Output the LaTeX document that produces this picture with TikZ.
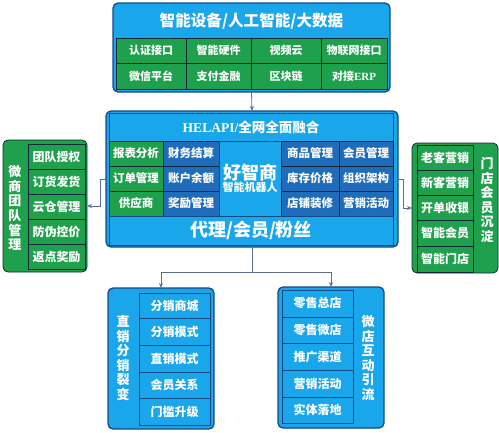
\documentclass[tikz,border=0pt]{standalone}
\usepackage{fontspec}
\setmainfont{Noto Sans CJK SC}
\newfontfamily\latinserif{Liberation Serif}
\usetikzlibrary{arrows.meta}
\definecolor{lblue}{RGB}{26,166,234}
\definecolor{dblue}{RGB}{31,108,186}
\definecolor{mgreen}{RGB}{31,160,76}
\definecolor{navy}{RGB}{22,72,132}
\definecolor{cellline}{RGB}{18,38,58}
\definecolor{connc}{RGB}{92,110,148}
\newcommand\mkcell[7]{%
  \pgfmathsetmacro\cx{(#2+#4)/2}%
  \pgfmathsetmacro\cy{(#3+#5)/2}%
  \node[#6, minimum width={(#4-#2)*1pt}, minimum height={(#5-#3)*1pt}] (#1) at (\cx,\cy) {#7};}
\begin{document}
\begin{tikzpicture}[x=1pt,y=-1pt,
  outerbox/.style={draw=navy, line width=1.3pt, rounded corners=5pt, inner sep=0pt, outer sep=0pt},
  gcell/.style={draw=cellline, line width=0.6pt, fill=mgreen, text=white, inner sep=0pt, outer sep=0pt, font=\bfseries\fontsize{11}{13}\selectfont},
  dcell/.style={gcell, fill=dblue},
  lcell/.style={gcell, fill=lblue, draw=navy},
  plain/.style={inner sep=0pt, outer sep=0pt, text=white},
  vtext/.style={text=white, align=center, inner sep=0pt, font=\bfseries\fontsize{13}{14.6}\selectfont},
  conn/.style={draw=connc, line width=0.8pt, -{Stealth[length=5pt,width=4pt]}},
  connplain/.style={draw=connc, line width=0.8pt}]
\useasboundingbox (0,0) rectangle (499,432);
% ---------- top box ----------
\mkcell{topbox}{113}{3}{390}{92}{outerbox, fill=lblue}{}
\mkcell{toptitle}{116}{5}{387}{37}{plain, font=\bfseries\fontsize{15.6}{17}\selectfont}{智能设备/人工智能/大数据}
\mkcell{t11}{116}{38}{186}{63}{gcell}{认证接口}
\mkcell{t12}{186}{38}{251}{63}{gcell}{智能硬件}
\mkcell{t13}{251}{38}{321}{63}{gcell}{视频云}
\mkcell{t14}{321}{38}{387}{63}{gcell}{物联网接口}
\mkcell{t21}{116}{63}{186}{89}{gcell}{微信平台}
\mkcell{t22}{186}{63}{251}{89}{gcell}{支付金融}
\mkcell{t23}{251}{63}{321}{89}{gcell}{区块链}
\mkcell{t24}{321}{63}{387}{89}{gcell}{对接{\latinserif ERP}}
% ---------- middle box ----------
\mkcell{midbox}{106}{111}{398}{247}{outerbox, fill=lblue}{}
\mkcell{midframe}{109}{113}{393}{245}{draw=navy, line width=0.6pt, inner sep=0pt}{}
\mkcell{midtitle}{109}{113}{393}{141}{plain, font=\bfseries\fontsize{13.5}{15}\selectfont}{{\latinserif HELAPI/}全网全面融合}
\mkcell{m11}{109}{141}{163}{166}{gcell, font=\bfseries\fontsize{11.5}{13}\selectfont}{报表分析}
\mkcell{m21}{109}{166}{163}{191}{gcell, font=\bfseries\fontsize{11.5}{13}\selectfont}{订单管理}
\mkcell{m31}{109}{191}{163}{216}{gcell, font=\bfseries\fontsize{11.5}{13}\selectfont}{供应商}
\mkcell{m12}{163}{141}{219}{166}{dcell, font=\bfseries\fontsize{11.5}{13}\selectfont}{财务结算}
\mkcell{m22}{163}{166}{219}{191}{dcell, font=\bfseries\fontsize{11.5}{13}\selectfont}{账户余额}
\mkcell{m32}{163}{191}{219}{216}{dcell, font=\bfseries\fontsize{11.5}{13}\selectfont}{奖励管理}
\mkcell{mcenter}{219}{141}{281}{216}{lcell, align=center, font=\bfseries\fontsize{11}{13}\selectfont}{{\fontsize{18}{21}\selectfont 好智商}\\[-1pt]智能机器人}
\mkcell{m14}{281}{141}{339}{166}{dcell, font=\bfseries\fontsize{11.5}{13}\selectfont}{商品管理}
\mkcell{m24}{281}{166}{339}{191}{dcell, font=\bfseries\fontsize{11.5}{13}\selectfont}{库存价格}
\mkcell{m34}{281}{191}{339}{216}{dcell, font=\bfseries\fontsize{11.5}{13}\selectfont}{店铺装修}
\mkcell{m15}{339}{141}{393}{166}{dcell, font=\bfseries\fontsize{11.5}{13}\selectfont}{会员管理}
\mkcell{m25}{339}{166}{393}{191}{dcell, font=\bfseries\fontsize{11.5}{13}\selectfont}{组织架构}
\mkcell{m35}{339}{191}{393}{216}{dcell, font=\bfseries\fontsize{11.5}{13}\selectfont}{营销活动}
\mkcell{midbottom}{109}{216}{393}{245}{lcell, font=\bfseries\fontsize{18}{20}\selectfont}{代理/会员/粉丝}
% ---------- left box ----------
\mkcell{leftbox}{3}{140}{87}{272}{outerbox, draw=cellline, line width=0.8pt, fill=mgreen}{}
\mkcell{l1}{28}{144}{85}{169}{gcell, font=\bfseries\fontsize{12}{14}\selectfont}{团队授权}
\mkcell{l2}{28}{169}{85}{194}{gcell, font=\bfseries\fontsize{12}{14}\selectfont}{订货发货}
\mkcell{l3}{28}{194}{85}{219}{gcell, font=\bfseries\fontsize{12}{14}\selectfont}{云仓管理}
\mkcell{l4}{28}{219}{85}{244}{gcell, font=\bfseries\fontsize{12}{14}\selectfont}{防伪控价}
\mkcell{l5}{28}{244}{85}{269}{gcell, font=\bfseries\fontsize{12}{14}\selectfont}{返点奖励}
\node[vtext] (ltext) at (15,208) {微\\商\\团\\队\\管\\理};
% ---------- right box ----------
\mkcell{rightbox}{412}{143}{498}{273}{outerbox, draw=cellline, line width=0.8pt, fill=mgreen}{}
\mkcell{r1}{417}{145}{473}{170}{gcell, font=\bfseries\fontsize{12}{14}\selectfont}{老客营销}
\mkcell{r2}{417}{170}{473}{195}{gcell, font=\bfseries\fontsize{12}{14}\selectfont}{新客营销}
\mkcell{r3}{417}{195}{473}{220}{gcell, font=\bfseries\fontsize{12}{14}\selectfont}{开单收银}
\mkcell{r4}{417}{220}{473}{246}{gcell, font=\bfseries\fontsize{12}{14}\selectfont}{智能会员}
\mkcell{r5}{417}{246}{473}{272}{gcell, font=\bfseries\fontsize{12}{14}\selectfont}{智能门店}
\node[vtext] (rtext) at (487,200) {门\\店\\会\\员\\沉\\淀};
% ---------- bottom left box ----------
\mkcell{blbox}{108}{288}{214}{429}{outerbox, fill=lblue}{}
\mkcell{b1}{139}{293}{210}{318}{lcell, font=\bfseries\fontsize{12}{14}\selectfont}{分销商城}
\mkcell{b2}{139}{318}{210}{345}{lcell, font=\bfseries\fontsize{12}{14}\selectfont}{分销模式}
\mkcell{b3}{139}{345}{210}{372}{lcell, font=\bfseries\fontsize{12}{14}\selectfont}{直销模式}
\mkcell{b4}{139}{372}{210}{398}{lcell, font=\bfseries\fontsize{12}{14}\selectfont}{会员关系}
\mkcell{b5}{139}{398}{210}{425}{lcell, font=\bfseries\fontsize{12}{14}\selectfont}{门槛升级}
\node[vtext] (bltext) at (123,358) {直\\销\\分\\销\\裂\\变};
% ---------- bottom right box ----------
\mkcell{brbox}{278}{287}{384}{428}{outerbox, fill=lblue}{}
\mkcell{c1}{282}{290}{353}{317}{lcell, font=\bfseries\fontsize{12}{14}\selectfont}{零售总店}
\mkcell{c2}{282}{317}{353}{343}{lcell, font=\bfseries\fontsize{12}{14}\selectfont}{零售微店}
\mkcell{c3}{282}{343}{353}{370}{lcell, font=\bfseries\fontsize{12}{14}\selectfont}{推广渠道}
\mkcell{c4}{282}{370}{353}{397}{lcell, font=\bfseries\fontsize{12}{14}\selectfont}{营销活动}
\mkcell{c5}{282}{397}{353}{423}{lcell, font=\bfseries\fontsize{12}{14}\selectfont}{实体落地}
\node[vtext] (brtext) at (368,358) {微\\店\\互\\动\\引\\流};
% ---------- connectors ----------
\draw[conn] (topbox.south) -- (midbox.north);
\draw[conn] (midbox.west) -- ++(-6,0) |- (leftbox.east);
\draw[conn] (midbox.east) -- ++(5,0) |- (rightbox.west);
\coordinate (split) at (252,272);
\draw[connplain] (midbox.south) -- (split);
\draw[conn] (split) -| (blbox.north);
\draw[conn] (split) -| (brbox.north);
\end{tikzpicture}
\end{document}
